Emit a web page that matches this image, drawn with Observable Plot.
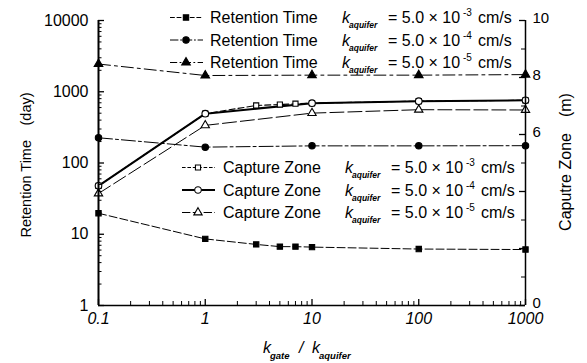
<!DOCTYPE html>
<html>
<head>
<meta charset="utf-8">
<script src="https://cdn.jsdelivr.net/npm/d3@7"></script>
<script src="https://cdn.jsdelivr.net/npm/@observablehq/plot@0.6"></script>
<style>
  body { margin: 0; background: #fff; }
  #chart svg { display: block; }
</style>
</head>
<body>
<div id="chart"></div>
<script>
// k_gate / k_aquifer ratios at which the model was evaluated
const ratioFine = [0.1, 1, 3, 5, 7, 10, 100, 1000];
const ratioCoarse = [0.1, 1, 10, 100, 1000];

// Retention time (day), left log axis
const retentionHigh = [19.7, 8.6, 7.2, 6.7, 6.7, 6.6, 6.2, 6.1];   // k_aquifer = 5.0e-3 cm/s
const retentionMid = [226, 167, 174, 174, 175];                    // k_aquifer = 5.0e-4 cm/s
const retentionLow = [2450, 1690, 1710, 1710, 1740];               // k_aquifer = 5.0e-5 cm/s

// Capture zone (m), right linear axis 0–10
const captureHigh = [4.2, 6.73, 7.02, 7.05, 7.08, 7.1, 7.17, 7.2]; // k_aquifer = 5.0e-3 cm/s
const captureMid = [4.2, 6.73, 7.1, 7.17, 7.2];                    // k_aquifer = 5.0e-4 cm/s
const captureLow = [3.93, 6.32, 6.75, 6.87, 6.86];                 // k_aquifer = 5.0e-5 cm/s

// Axis ticks
const xTicks = [0.1, 1, 10, 100, 1000];
const yTicks = [1, 10, 100, 1000, 10000];
const zoneTicks = [0, 2, 4, 6, 8, 10];
const zoneMinor = [1, 3, 5, 7, 9];
const mantissas = [2, 3, 4, 5, 6, 7, 8, 9];

// The capture-zone axis (0–10 m) shares the frame with the 1–10000 log axis
const zoneToLog = v => Math.pow(10, 0.4 * v);
const logToZone = d => Math.round(Math.log10(d) / 0.4);

const W = 587, H = 363;
const mL = 98, mR = 62, mT = 20, mB = 58;
const FW = W - mL - mR, FH = H - mT - mB;
const FONT = "'Liberation Sans', Arial, Helvetica, sans-serif";

const series = [
  {xs: ratioFine,   ys: retentionHigh, zone: false, symbol: "square",   fill: "#000", r: 3,   dash: "8,3",      sw: 1,   exp: "-3"},
  {xs: ratioCoarse, ys: retentionMid,  zone: false, symbol: "circle",   fill: "#000", r: 3.2, dash: "14,3,3,3", sw: 1,   exp: "-4"},
  {xs: ratioCoarse, ys: retentionLow,  zone: false, symbol: "triangle", fill: "#000", r: 3.2, dash: "12,4,3,4", sw: 1,   exp: "-5"},
  {xs: ratioFine,   ys: captureHigh,   zone: true,  symbol: "square",   fill: "#fff", r: 2.9, dash: "6,3",      sw: 1.1, exp: "-3"},
  {xs: ratioCoarse, ys: captureMid,    zone: true,  symbol: "circle",   fill: "#fff", r: 3.3, dash: null,       sw: 2,   exp: "-4"},
  {xs: ratioCoarse, ys: captureLow,    zone: true,  symbol: "triangle", fill: "#fff", r: 3.1, dash: "14,4",     sw: 1,   exp: "-5"}
];

const rowsOf = s => s.xs.map((x, i) => ({x, y: s.zone ? zoneToLog(s.ys[i]) : s.ys[i]}));

const yMinor = [1, 10, 100, 1000].flatMap(d => mantissas.map(m => m * d));
const xMinor = [0.1, 1, 10, 100].flatMap(d => mantissas.map(m => m * d));

const lineMarks = series.map(s => Plot.line(rowsOf(s), {
  x: "x", y: "y", stroke: "#000", strokeWidth: s.sw,
  strokeDasharray: s.dash || undefined
}));
// open squares first so the circles sit on top where they coincide
const dotOrder = [3, 5, 4, 0, 1, 2];
const dotMarks = dotOrder.map(i => {
  const s = series[i];
  return Plot.dot(rowsOf(s), {
    x: "x", y: "y", symbol: s.symbol, r: s.r,
    fill: s.fill, stroke: "#000", strokeWidth: 1.1
  });
});

const chart = Plot.plot({
  width: W, height: H,
  marginLeft: mL, marginRight: mR, marginTop: mT, marginBottom: mB,
  x: {type: "log", domain: [0.1, 1000]},
  y: {type: "log", domain: [1, 10000]},
  style: {fontFamily: FONT, fontSize: "16px", color: "#000", background: "#fff"},
  marks: [
    ...lineMarks,
    ...dotMarks,
    // inward ticks
    Plot.tickY(yTicks, {y: d => d, insetRight: FW - 6, strokeWidth: 1.3}),
    Plot.tickY(yMinor, {y: d => d, insetRight: FW - 3.5, strokeWidth: 1}),
    Plot.tickX(xTicks, {x: d => d, insetTop: FH - 6, strokeWidth: 1.3}),
    Plot.tickX(xMinor, {x: d => d, insetTop: FH - 4, strokeWidth: 1}),
    Plot.tickY(zoneTicks.map(zoneToLog), {y: d => d, insetLeft: FW - 6, strokeWidth: 1.3}),
    Plot.tickY(zoneMinor.map(zoneToLog), {y: d => d, insetLeft: FW - 4, strokeWidth: 1}),
    // axis lines
    Plot.ruleX([0.1], {strokeWidth: 2}),
    Plot.ruleX([1000], {strokeWidth: 1.5}),
    Plot.ruleY([1], {strokeWidth: 1.5}),
    // tick labels
    Plot.axisY({anchor: "left", ticks: yTicks, tickSize: 0, tickPadding: 10, tickFormat: d => String(d), label: null}),
    Plot.axisY({anchor: "right", ticks: zoneTicks.map(zoneToLog), tickSize: 0, tickPadding: 7, tickFormat: logToZone, label: null, fontSize: 15, dy: -2}),
    Plot.axisX({ticks: xTicks, tickSize: 0, tickPadding: 7, tickFormat: d => String(d), label: null})
  ]
});

document.getElementById("chart").appendChild(chart);

const svg = d3.select(chart);
svg.selectAll('g[aria-label="x-axis tick label"]').attr("font-style", "italic");

const symbolType = {square: d3.symbolSquare, circle: d3.symbolCircle, triangle: d3.symbolTriangle};

// Legend: one row per series
function legendRow(s, y, lineX0, lineX1, markX, label, labelX, kX) {
  const g = svg.append("g").attr("fill", "#000").attr("text-anchor", "start");
  g.append("line")
    .attr("x1", lineX0).attr("x2", lineX1).attr("y1", y - 5.5).attr("y2", y - 5.5)
    .attr("stroke", "#000").attr("stroke-width", s.sw)
    .attr("stroke-dasharray", s.dash ? s.dash.split(",").map(v => v * 0.6).join(",") : null);
  g.append("path")
    .attr("d", d3.symbol(symbolType[s.symbol], Math.PI * s.r * s.r)())
    .attr("transform", `translate(${markX},${y - 5.5})`)
    .attr("fill", s.fill).attr("stroke", "#000").attr("stroke-width", 1.1);
  g.append("text").attr("x", labelX).attr("y", y).text(label);
  g.append("text").attr("x", kX).attr("y", y).attr("font-style", "italic").text("k");
  g.append("text").attr("x", kX + 7).attr("y", y + 5).attr("font-size", 8.5)
    .attr("font-style", "italic").attr("font-weight", "bold").text("aquifer");
  g.append("text").attr("x", kX + 46).attr("y", y).text("= 5.0 \u00d7 10");
  g.append("text").attr("x", kX + 121).attr("y", y - 7).attr("font-size", 10).text(s.exp);
  g.append("text").attr("x", kX + 136).attr("y", y).text("cm/s");
}

[0, 1, 2].forEach((i, j) => legendRow(series[i], 23 + 22.5 * j, 170, 203, 186, "Retention Time", 210, 342));
[3, 4, 5].forEach((i, j) => legendRow(series[i], 173 + 22.5 * j, 182, 215, 198, "Capture Zone", 223, 345));

// Axis titles
svg.append("text")
  .attr("transform", "translate(31,165) rotate(-90)")
  .attr("text-anchor", "middle").attr("font-size", 14.5)
  .text("Retention Time\u2003(day)");
svg.append("text")
  .attr("transform", "translate(571,162) rotate(-90)")
  .attr("text-anchor", "middle").attr("font-size", 16)
  .text("Caputre Zone\u2003(m)");

const xt = svg.append("g").attr("font-style", "italic").attr("text-anchor", "start");
xt.append("text").attr("x", 263).attr("y", 353).text("k");
xt.append("text").attr("x", 270).attr("y", 359).attr("font-size", 9.5).attr("font-weight", "bold").text("gate");
xt.append("text").attr("x", 299).attr("y", 353).text("/");
xt.append("text").attr("x", 312).attr("y", 353).text("k");
xt.append("text").attr("x", 319).attr("y", 359).attr("font-size", 9.5).attr("font-weight", "bold").text("aquifer");
</script>
</body>
</html>
